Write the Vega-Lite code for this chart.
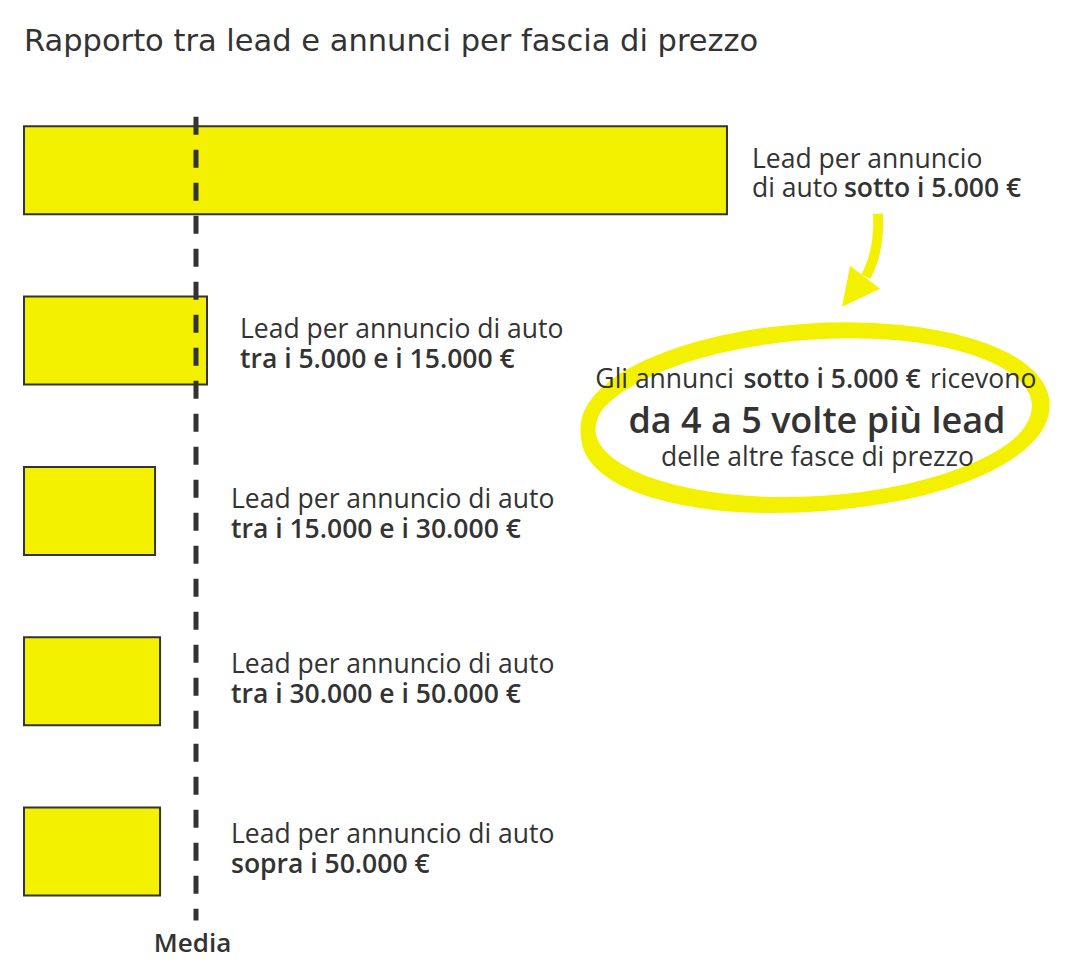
{
  "$schema": "https://vega.github.io/schema/vega-lite/v6.json",
  "width": 1065,
  "height": 961,
  "autosize": "none",
  "padding": 0,
  "background": "white",
  "config": {"view": {"stroke": null}, "text": {"font": "Open Sans", "color": "#333333"}},
  "datasets": {
    "bars": [
      {"fascia": "sotto i 5.000 €", "lead_index": 408.7, "rank": 1},
      {"fascia": "tra i 5.000 e i 15.000 €", "lead_index": 106.4, "rank": 2},
      {"fascia": "tra i 15.000 e i 30.000 €", "lead_index": 76.2, "rank": 3},
      {"fascia": "tra i 30.000 e i 50.000 €", "lead_index": 79.1, "rank": 4},
      {"fascia": "sopra i 50.000 €", "lead_index": 79.1, "rank": 5}
    ],
    "media": [{"lead_index": 100}],
    "testi": [
      {"kind": "title", "text": "Rapporto tra lead e annunci per fascia di prezzo", "x": 0, "y": 0.2986},
      {"kind": "label", "text": "Lead per annuncio", "x": 423.26, "y": 0.9853},
      {"kind": "label", "text": "di auto", "x": 423.26, "y": 1.1555},
      {"kind": "labelbold", "text": "sotto i 5.000 €", "x": 476.7, "y": 1.1555},
      {"kind": "label", "text": "Lead per annuncio di auto", "x": 125.58, "y": 1.9831},
      {"kind": "labelbold", "text": "tra i 5.000 e i 15.000 €", "x": 125.58, "y": 2.1592},
      {"kind": "label", "text": "Lead per annuncio di auto", "x": 120.35, "y": 2.9809},
      {"kind": "labelbold", "text": "tra i 15.000 e i 30.000 €", "x": 120.35, "y": 3.157},
      {"kind": "label", "text": "Lead per annuncio di auto", "x": 120.35, "y": 3.9494},
      {"kind": "labelbold", "text": "tra i 30.000 e i 50.000 €", "x": 120.35, "y": 4.1255},
      {"kind": "label", "text": "Lead per annuncio di auto", "x": 120.35, "y": 4.9472},
      {"kind": "labelbold", "text": "sopra i 50.000 €", "x": 120.35, "y": 5.1233},
      {"kind": "media", "text": "Media", "x": 97.97, "y": 5.587},
      {"kind": "noteright", "text": "Gli annunci", "x": 412.8, "y": 2.2766},
      {"kind": "notebold", "text": "sotto i 5.000 €", "x": 469.8, "y": 2.2766},
      {"kind": "label", "text": "ricevono", "x": 526.7, "y": 2.2766},
      {"kind": "big", "text": "da 4 a 5 volte più lead", "x": 461.0, "y": 2.5407},
      {"kind": "notecenter", "text": "delle altre fasce di prezzo", "x": 461.3, "y": 2.7344}
    ],
    "cerchio": [{"x": 459.9, "y": 2.4497}],
    "cerchio2": [{"x": 457.6, "y": 2.4732}],
    "freccia": [
      {"seq": 1, "x": 496.5, "y": 1.2553},
      {"seq": 2, "x": 496.5, "y": 1.3551},
      {"seq": 3, "x": 495.3, "y": 1.4549},
      {"seq": 4, "x": 493.0, "y": 1.5429},
      {"seq": 5, "x": 489.5, "y": 1.6251}
    ],
    "punta": [{"x": 484.5, "y": 1.6855}]
  },
  "layer": [
    {
      "data": {"name": "cerchio"},
      "mark": {"type": "point", "shape": "M-1,0C-1,-0.2099 -0.5523,-0.38 0,-0.38C0.5523,-0.38 1,-0.2099 1,0C1,0.2099 0.5523,0.38 0,0.38C-0.5523,0.38 -1,0.2099 -1,0Z", "size": 207025, "angle": -3.5, "filled": false, "stroke": "#F4F100", "strokeWidth": 15, "opacity": 1},
      "encoding": {
        "x": {"field": "x", "type": "quantitative", "scale": {"domain": [-13.95, 605.23], "nice": false, "zero": false}, "axis": null},
        "y": {"field": "y", "type": "quantitative", "scale": {"domain": [0.03037, 5.6127], "nice": false, "zero": false, "reverse": true}, "axis": null}
      }
    },
    {
      "data": {"name": "cerchio2"},
      "mark": {"type": "point", "shape": "M-1,0C-1,-0.2099 -0.5523,-0.38 0,-0.38C0.5523,-0.38 1,-0.2099 1,0C1,0.2099 0.5523,0.38 0,0.38C-0.5523,0.38 -1,0.2099 -1,0Z", "size": 204304, "angle": -4.5, "filled": false, "stroke": "#F4F100", "strokeWidth": 9, "opacity": 1},
      "encoding": {
        "x": {"field": "x", "type": "quantitative", "scale": {"domain": [-13.95, 605.23], "nice": false, "zero": false}, "axis": null},
        "y": {"field": "y", "type": "quantitative", "scale": {"domain": [0.03037, 5.6127], "nice": false, "zero": false, "reverse": true}, "axis": null}
      }
    },
    {
      "data": {"name": "freccia"},
      "mark": {"type": "line", "stroke": "#F4F100", "strokeWidth": 10, "strokeCap": "butt", "interpolate": "cardinal"},
      "encoding": {
        "x": {"field": "x", "type": "quantitative", "scale": {"domain": [-13.95, 605.23], "nice": false, "zero": false}, "axis": null},
        "y": {"field": "y", "type": "quantitative", "scale": {"domain": [0.03037, 5.6127], "nice": false, "zero": false, "reverse": true}, "axis": null},
        "order": {"field": "seq", "type": "quantitative"}
      }
    },
    {
      "data": {"name": "punta"},
      "mark": {"type": "point", "shape": "M-0.292,-0.852L0.908,0.068L-0.612,0.788Z", "size": 2500, "filled": true, "fill": "#F4F100", "strokeWidth": 0, "opacity": 1},
      "encoding": {
        "x": {"field": "x", "type": "quantitative", "scale": {"domain": [-13.95, 605.23], "nice": false, "zero": false}, "axis": null},
        "y": {"field": "y", "type": "quantitative", "scale": {"domain": [0.03037, 5.6127], "nice": false, "zero": false, "reverse": true}, "axis": null}
      }
    },
    {
      "data": {"name": "bars"},
      "mark": {"type": "bar", "orient": "horizontal", "size": 88, "fill": "#F4F100", "stroke": "#333333", "strokeWidth": 2},
      "encoding": {
        "x": {"field": "lead_index", "type": "quantitative", "scale": {"domain": [-13.95, 605.23], "nice": false, "zero": false}, "axis": null},
        "x2": {"datum": 0},
        "y": {"field": "rank", "type": "quantitative", "scale": {"domain": [0.03037, 5.6127], "nice": false, "zero": false, "reverse": true}, "axis": null}
      }
    },
    {
      "data": {"name": "media"},
      "mark": {"type": "rule", "stroke": "#333333", "strokeWidth": 5, "strokeDash": [18, 15]},
      "encoding": {
        "x": {"field": "lead_index", "type": "quantitative", "scale": {"domain": [-13.95, 605.23], "nice": false, "zero": false}, "axis": null},
        "y": {"datum": 0.686, "type": "quantitative", "scale": {"domain": [0.03037, 5.6127], "nice": false, "zero": false, "reverse": true}, "axis": null},
        "y2": {"datum": 5.405}
      }
    },
    {
      "data": {"name": "testi"},
      "transform": [{"filter": "datum.kind === 'title'"}],
      "mark": {"type": "text", "align": "left", "baseline": "alphabetic", "fontSize": 30.5, "fontWeight": "normal", "font": "DejaVu Sans"},
      "encoding": {
        "x": {"field": "x", "type": "quantitative", "scale": {"domain": [-13.95, 605.23], "nice": false, "zero": false}, "axis": null},
        "y": {"field": "y", "type": "quantitative", "scale": {"domain": [0.03037, 5.6127], "nice": false, "zero": false, "reverse": true}, "axis": null},
        "text": {"field": "text"}
      }
    },
    {
      "data": {"name": "testi"},
      "transform": [{"filter": "datum.kind === 'label'"}],
      "mark": {"type": "text", "align": "left", "baseline": "alphabetic", "fontSize": 26.5, "fontWeight": "normal"},
      "encoding": {
        "x": {"field": "x", "type": "quantitative", "scale": {"domain": [-13.95, 605.23], "nice": false, "zero": false}, "axis": null},
        "y": {"field": "y", "type": "quantitative", "scale": {"domain": [0.03037, 5.6127], "nice": false, "zero": false, "reverse": true}, "axis": null},
        "text": {"field": "text"}
      }
    },
    {
      "data": {"name": "testi"},
      "transform": [{"filter": "datum.kind === 'labelbold'"}],
      "mark": {"type": "text", "align": "left", "baseline": "alphabetic", "fontSize": 26.5, "fontWeight": 600},
      "encoding": {
        "x": {"field": "x", "type": "quantitative", "scale": {"domain": [-13.95, 605.23], "nice": false, "zero": false}, "axis": null},
        "y": {"field": "y", "type": "quantitative", "scale": {"domain": [0.03037, 5.6127], "nice": false, "zero": false, "reverse": true}, "axis": null},
        "text": {"field": "text"}
      }
    },
    {
      "data": {"name": "testi"},
      "transform": [{"filter": "datum.kind === 'media'"}],
      "mark": {"type": "text", "align": "center", "baseline": "alphabetic", "fontSize": 26, "fontWeight": 600},
      "encoding": {
        "x": {"field": "x", "type": "quantitative", "scale": {"domain": [-13.95, 605.23], "nice": false, "zero": false}, "axis": null},
        "y": {"field": "y", "type": "quantitative", "scale": {"domain": [0.03037, 5.6127], "nice": false, "zero": false, "reverse": true}, "axis": null},
        "text": {"field": "text"}
      }
    },
    {
      "data": {"name": "testi"},
      "transform": [{"filter": "datum.kind === 'noteright'"}],
      "mark": {"type": "text", "align": "right", "baseline": "alphabetic", "fontSize": 26.5, "fontWeight": "normal"},
      "encoding": {
        "x": {"field": "x", "type": "quantitative", "scale": {"domain": [-13.95, 605.23], "nice": false, "zero": false}, "axis": null},
        "y": {"field": "y", "type": "quantitative", "scale": {"domain": [0.03037, 5.6127], "nice": false, "zero": false, "reverse": true}, "axis": null},
        "text": {"field": "text"}
      }
    },
    {
      "data": {"name": "testi"},
      "transform": [{"filter": "datum.kind === 'notebold'"}],
      "mark": {"type": "text", "align": "center", "baseline": "alphabetic", "fontSize": 26.5, "fontWeight": 600},
      "encoding": {
        "x": {"field": "x", "type": "quantitative", "scale": {"domain": [-13.95, 605.23], "nice": false, "zero": false}, "axis": null},
        "y": {"field": "y", "type": "quantitative", "scale": {"domain": [0.03037, 5.6127], "nice": false, "zero": false, "reverse": true}, "axis": null},
        "text": {"field": "text"}
      }
    },
    {
      "data": {"name": "testi"},
      "transform": [{"filter": "datum.kind === 'big'"}],
      "mark": {"type": "text", "align": "center", "baseline": "alphabetic", "fontSize": 36, "fontWeight": 600},
      "encoding": {
        "x": {"field": "x", "type": "quantitative", "scale": {"domain": [-13.95, 605.23], "nice": false, "zero": false}, "axis": null},
        "y": {"field": "y", "type": "quantitative", "scale": {"domain": [0.03037, 5.6127], "nice": false, "zero": false, "reverse": true}, "axis": null},
        "text": {"field": "text"}
      }
    },
    {
      "data": {"name": "testi"},
      "transform": [{"filter": "datum.kind === 'notecenter'"}],
      "mark": {"type": "text", "align": "center", "baseline": "alphabetic", "fontSize": 26.5, "fontWeight": "normal"},
      "encoding": {
        "x": {"field": "x", "type": "quantitative", "scale": {"domain": [-13.95, 605.23], "nice": false, "zero": false}, "axis": null},
        "y": {"field": "y", "type": "quantitative", "scale": {"domain": [0.03037, 5.6127], "nice": false, "zero": false, "reverse": true}, "axis": null},
        "text": {"field": "text"}
      }
    }
  ]
}
